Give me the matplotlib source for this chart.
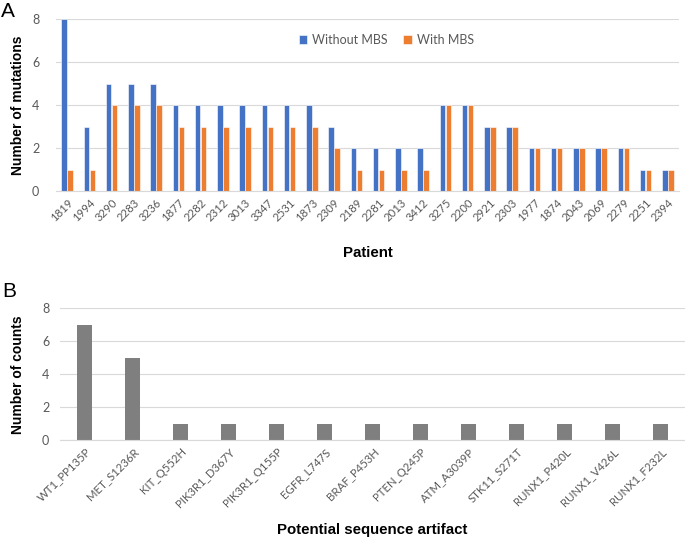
import numpy as np
import matplotlib
matplotlib.use("Agg")
import matplotlib.pyplot as plt

patients = ["1819", "1994", "3290", "2283", "3236", "1877", "2282", "2312", "3013",
            "3347", "2531", "1873", "2309", "2189", "2281", "2013", "3412", "3275",
            "2200", "2921", "2303", "1977", "1874", "2043", "2069", "2279", "2251", "2394"]
without_mbs = [8, 3, 5, 5, 5, 4, 4, 4, 4, 4, 4, 4, 3, 2, 2, 2, 2, 4, 4, 3, 3, 2, 2, 2, 2, 2, 1, 1]
with_mbs = [1, 1, 4, 4, 4, 3, 3, 3, 3, 3, 3, 3, 2, 1, 1, 1, 1, 4, 4, 3, 3, 2, 2, 2, 2, 2, 1, 1]

artifacts = ["WT1_PP135P", "MET_S1236R", "KIT_Q552H", "PIK3R1_D367Y", "PIK3R1_Q155P",
             "EGFR_L747S", "BRAF_P453H", "PTEN_Q245P", "ATM_A3039P", "STK11_S271T",
             "RUNX1_P420L", "RUNX1_V426L", "RUNX1_F232L"]
counts = [7, 5, 1, 1, 1, 1, 1, 1, 1, 1, 1, 1, 1]

blue = "#4472C4"
orange = "#ED7D31"
gray_bar = "#7F7F7F"
grid_c = "#D9D9D9"
tick_c = "#595959"
tick_font = "Lato"
lab_font = "Liberation Sans"

fig = plt.figure(figsize=(6.85, 5.41), dpi=100)


def style(ax):
    for s in ["top", "right", "left"]:
        ax.spines[s].set_visible(False)
    ax.spines["bottom"].set_color(grid_c)
    ax.yaxis.grid(True, color=grid_c, linewidth=0.8)
    ax.set_axisbelow(True)
    ax.tick_params(length=0, colors=tick_c)
    ax.set_ylim(0, 8)
    ax.set_yticks([0, 2, 4, 6, 8])
    for t in ax.get_yticklabels():
        t.set_fontfamily(tick_font)
        t.set_fontsize(9)


# panel A
ax1 = fig.add_axes([0.0818, 0.6464, 0.9095, 0.3185])
x = np.arange(len(patients))
w = 0.25
ax1.bar(x - w / 2 - 0.01, without_mbs, w, color=blue, edgecolor="white", linewidth=0.4,
        label="Without MBS")
ax1.bar(x + w / 2 + 0.01, with_mbs, w, color=orange, edgecolor="white", linewidth=0.4,
        label="With MBS")
ax1.set_xlim(-0.5, len(patients) - 0.5)
style(ax1)
ax1.set_xticks(x)
ax1.set_xticklabels(patients, rotation=45, ha="right", rotation_mode="anchor",
                    fontfamily=tick_font, fontsize=8.2)
ax1.tick_params(axis="y", pad=12)
ax1.tick_params(axis="x", pad=4)
ax1.set_ylabel("Number of mutations", fontfamily=lab_font, fontweight="bold", fontsize=10)
ax1.set_xlabel("Patient", fontfamily=lab_font, fontweight="bold", fontsize=10.8)
ax1.yaxis.set_label_coords(-0.05, 0.5)
ax1.xaxis.set_label_coords(0.5, -0.32)
leg = ax1.legend(loc="center", bbox_to_anchor=(0.53, 0.878), ncol=2, frameon=False,
                 prop={"family": tick_font, "size": 9}, handlelength=0.7, handleheight=0.7,
                 columnspacing=1.2, handletextpad=0.4)
for t in leg.get_texts():
    t.set_color(tick_c)

# panel B
ax2 = fig.add_axes([0.0883, 0.1861, 0.911, 0.244])
xb = np.arange(len(artifacts))
ax2.bar(xb, counts, 0.31, color=gray_bar)
ax2.set_xlim(-0.5, len(artifacts) - 0.5)
style(ax2)
ax2.set_xticks(xb)
ax2.set_xticklabels(artifacts, rotation=45, ha="right", rotation_mode="anchor",
                    fontfamily=tick_font, fontsize=8.2)
ax2.tick_params(axis="y", pad=8)
ax2.tick_params(axis="x", pad=4)
ax2.set_ylabel("Number of counts", fontfamily=lab_font, fontweight="bold", fontsize=10)
ax2.set_xlabel("Potential sequence artifact", fontfamily=lab_font, fontweight="bold",
               fontsize=10.8)
ax2.yaxis.set_label_coords(-0.057, 0.5)
ax2.xaxis.set_label_coords(0.5, -0.63)

fig.text(0.001, 0.997, "A", fontfamily=lab_font, fontsize=15, va="top", ha="left")
fig.text(0.004, 0.478, "B", fontfamily=lab_font, fontsize=15, va="top", ha="left")

fig.savefig("out.png", dpi=100)
